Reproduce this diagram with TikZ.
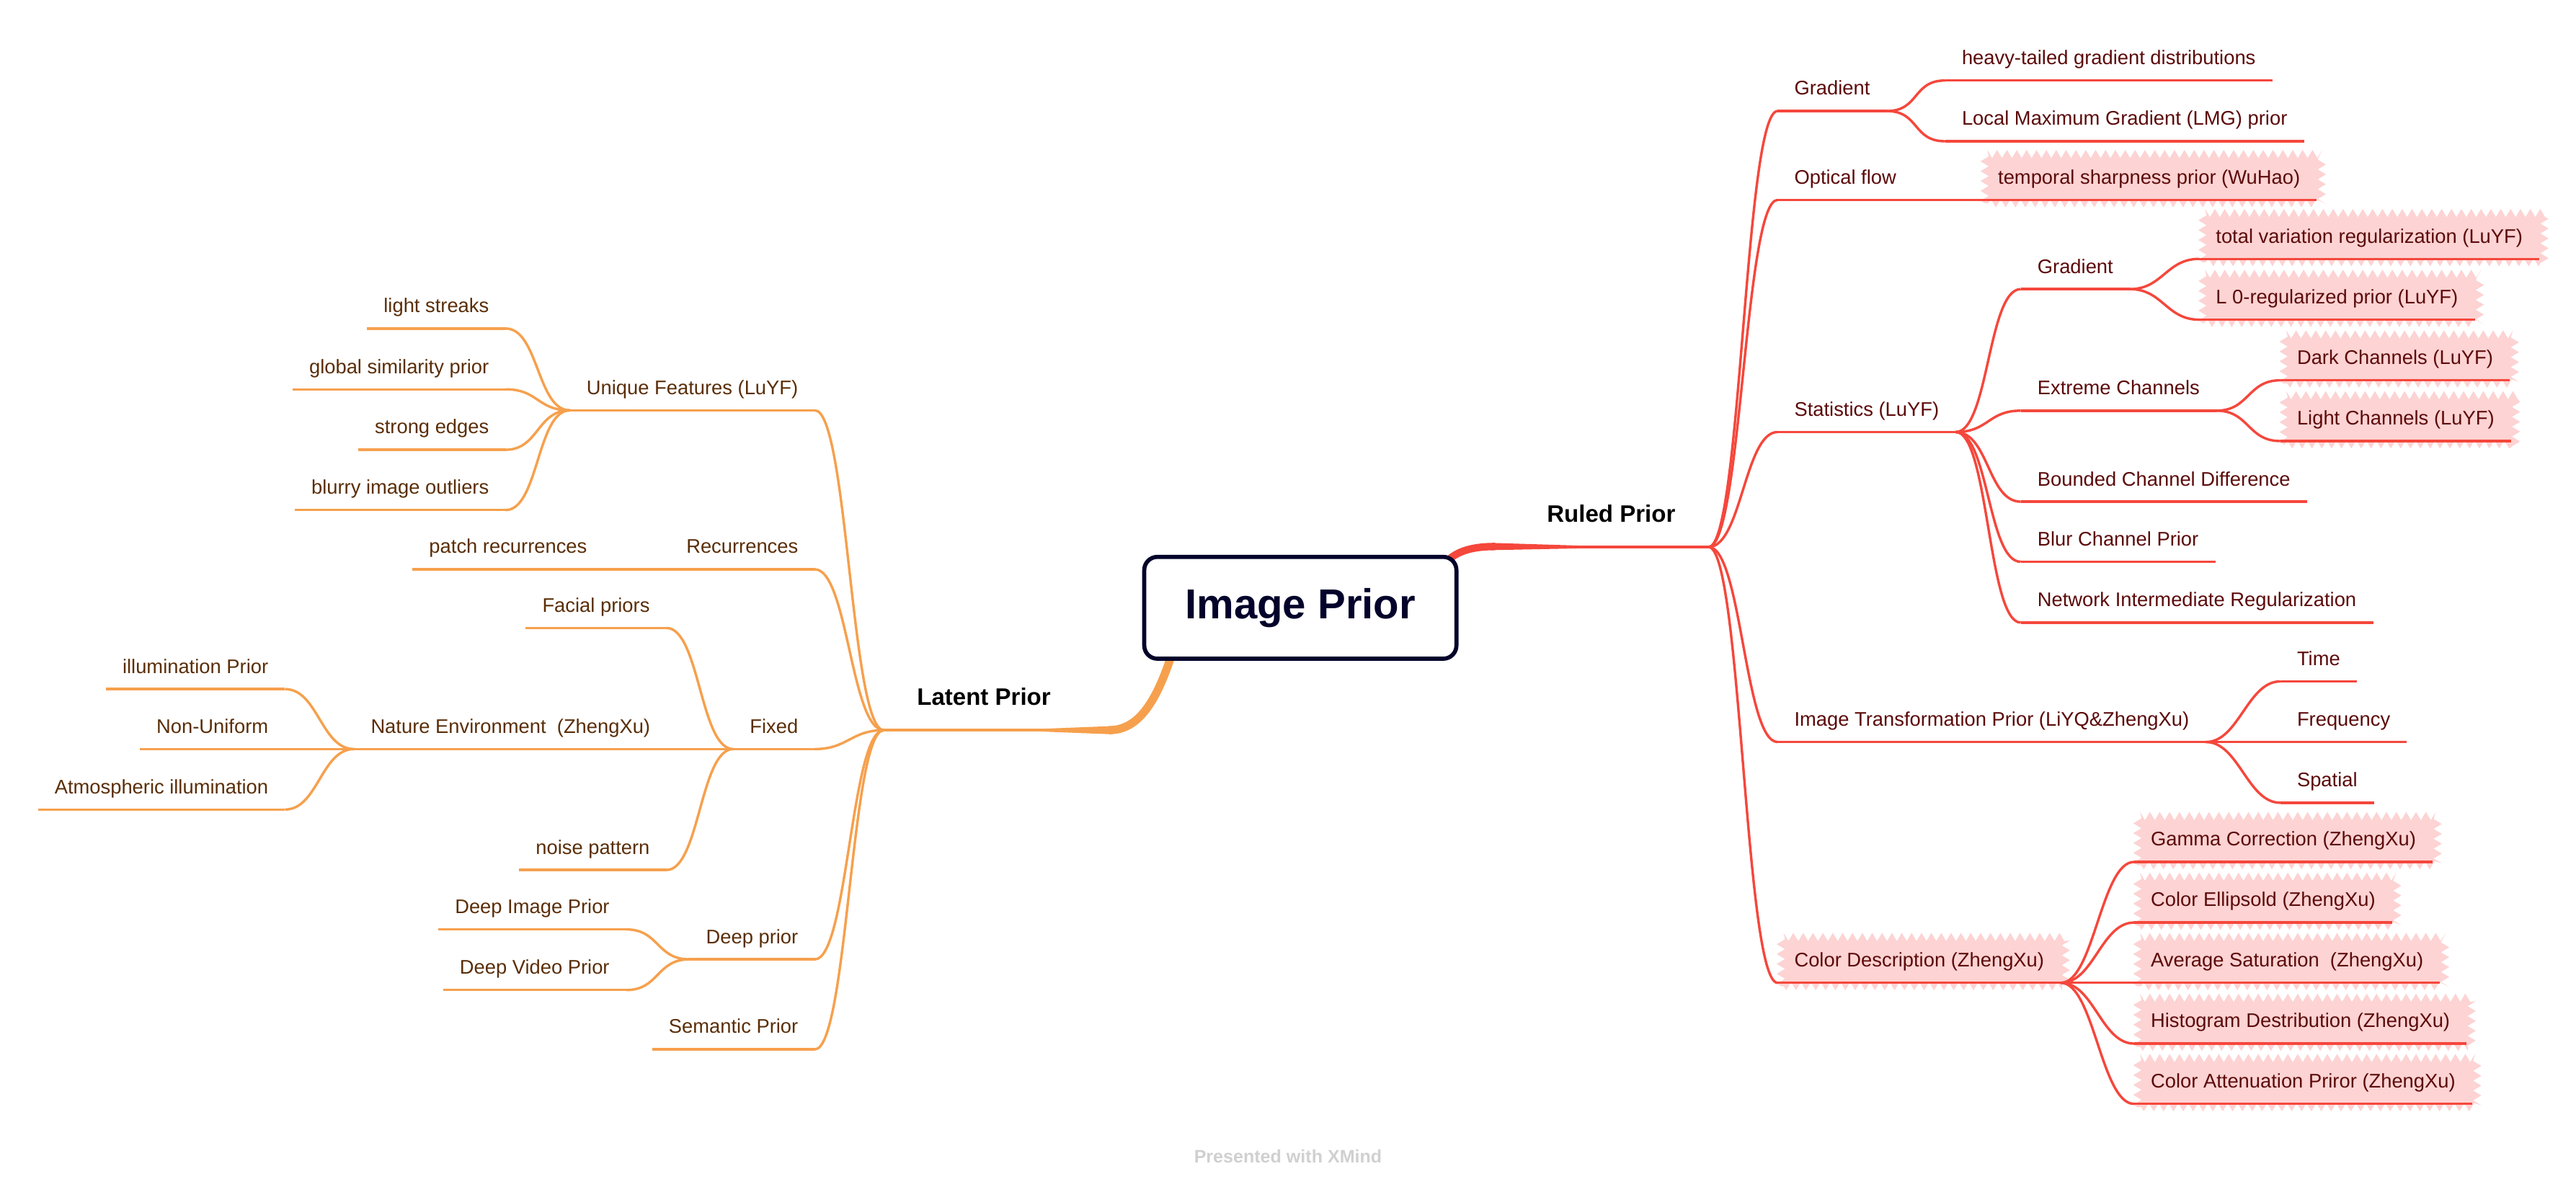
\documentclass[tikz,border=0pt]{standalone}
\usepackage{fontspec}
\setmainfont{Liberation Sans}
\usetikzlibrary{calc,backgrounds,decorations.pathmorphing}
\definecolor{rline}{HTML}{F5473C}
\definecolor{rtext}{HTML}{5C0A0A}
\definecolor{oline}{HTML}{F6A04D}
\definecolor{otext}{HTML}{5A2E08}
\definecolor{hlpink}{HTML}{FDD3D3}
\definecolor{navy}{HTML}{03032B}
\definecolor{footgray}{HTML}{D0D0D0}
\newcommand\rcon[2]{\draw[rl] (#1.south east) .. controls +(20,0) and +(-20,0) .. (#2.south west);}
\newcommand\lcon[2]{\draw[ol] (#1.south west) .. controls +(-20,0) and +(20,0) .. (#2.south east);}
\begin{document}
\begin{tikzpicture}[x=1pt,y=-1pt,
 rnode/.style={font=\fontsize{12}{14}\selectfont, text=rtext, inner xsep=10pt, inner ysep=7pt, text height=9pt, text depth=2.5pt, anchor=south west},
 lnode/.style={font=\fontsize{12}{14}\selectfont, text=otext, inner xsep=10pt, inner ysep=7pt, text height=9pt, text depth=2.5pt, anchor=south east},
 rl/.style={draw=rline, line width=1.5pt},
 ol/.style={draw=oline, line width=1.5pt},
 mainlbl/.style={font=\bfseries\fontsize{14.5}{17}\selectfont, text=black, inner xsep=20pt, inner ysep=12pt, text height=11pt, text depth=3pt},
 hlfill/.style={fill=hlpink, decorate, decoration={zigzag, segment length=6pt, amplitude=2.5pt}}]
\useasboundingbox (0,0) rectangle (1568,725.6);
\begin{scope}[on background layer]
\fill[white] (0,0) rectangle (1568,725.6);
\end{scope}

% root
\node[draw=navy, line width=2.5pt, rounded corners=8pt, fill=white, minimum width=190pt, minimum height=62pt, inner sep=0pt, font=\bfseries\fontsize{25.5}{30}\selectfont, text=navy] (root) at (791.5,370) {Image Prior};

% main labels
\node[mainlbl, anchor=south east] (RP) at (1040,333) {Ruled Prior};
\node[mainlbl, anchor=south west] (LP) at (538,444.5) {Latent Prior};

% right side
\node[rnode] (G1) at (1082,67.6) {Gradient};
\node[rnode] (heavy) at (1184,49) {heavy-tailed gradient distributions};
\node[rnode] (lmg) at (1184,86) {Local Maximum Gradient (LMG) prior};
\node[rnode] (OF) at (1082,121.7) {Optical flow};
\node[rnode] (tsp) at (1206,121.7) {temporal sharpness prior (WuHao)};
\node[rnode] (ST) at (1082,263) {Statistics (LuYF)};
\node[rnode] (G2) at (1230,176) {Gradient};
\node[rnode] (tv) at (1338.6,157.6) {total variation regularization (LuYF)};
\node[rnode] (l0) at (1338.6,194.6) {L 0-regularized prior (LuYF)};
\node[rnode] (EC) at (1230,250) {Extreme Channels};
\node[rnode] (dc) at (1388,231.5) {Dark Channels (LuYF)};
\node[rnode] (lc) at (1388,268.5) {Light Channels (LuYF)};
\node[rnode] (BCD) at (1230,305.4) {Bounded Channel Difference};
\node[rnode] (BCP) at (1230,342) {Blur Channel Prior};
\node[rnode] (NIR) at (1230,379) {Network Intermediate Regularization};
\node[rnode] (IT) at (1082,451.7) {Image Transformation Prior (LiYQ\&ZhengXu)};
\node[rnode] (time) at (1388,414.8) {Time};
\node[rnode] (freq) at (1388,451.7) {Frequency};
\node[rnode] (spat) at (1388,488.7) {Spatial};
\node[rnode] (CD) at (1082,598.3) {Color Description (ZhengXu)};
\node[rnode] (gc) at (1299,524.7) {Gamma Correction (ZhengXu)};
\node[rnode] (ce) at (1299,561.6) {Color Ellipsold (ZhengXu)};
\node[rnode] (avs) at (1299,598.3) {Average Saturation\ \ (ZhengXu)};
\node[rnode] (hd) at (1299,635.3) {Histogram Destribution (ZhengXu)};
\node[rnode] (ca) at (1299,672) {Color Attenuation Priror (ZhengXu)};

% left side
\node[lnode] (UF) at (496,249.8) {Unique Features (LuYF)};
\node[lnode] (ls) at (307.8,200) {light streaks};
\node[lnode] (gsp) at (307.8,237) {global similarity prior};
\node[lnode] (sed) at (307.8,273.8) {strong edges};
\node[lnode] (bio) at (307.8,310.5) {blurry image outliers};
\node[lnode] (RC) at (496,346.6) {Recurrences};
\node[lnode] (pr) at (367.5,346.6) {patch recurrences};
\node[lnode] (FX) at (496,456) {Fixed};
\node[lnode] (fp) at (405.7,382.3) {Facial priors};
\node[lnode] (ne) at (406,456) {Nature Environment\ \ (ZhengXu)};
\node[lnode] (ip) at (173.5,419.5) {illumination Prior};
\node[lnode] (nu) at (173.5,456) {Non-Uniform};
\node[lnode] (ai) at (173.5,492.8) {Atmospheric illumination};
\node[lnode] (np) at (405.7,529.6) {noise pattern};
\node[lnode] (DP) at (496,584) {Deep prior};
\node[lnode] (dip) at (381.2,565.8) {Deep Image Prior};
\node[lnode] (dvp) at (381.2,602.7) {Deep Video Prior};
\node[lnode] (SP) at (496,638.8) {Semantic Prior};

% footer
\node[font=\bfseries\fontsize{11}{13}\selectfont, text=footgray] (foot) at (784,703.8) {Presented with XMind};

% highlights
\begin{scope}[on background layer]
\foreach \n in {tsp,tv,l0,dc,lc,CD,gc,ce,avs,hd,ca}
  \fill[hlfill] ($(\n.south west)+(2,2)$) rectangle ($(\n.north east)+(3,-2)$);
% thick root connectors
\coordinate (rpA) at (910,332.7);
\draw[rline, line width=4.5pt] ($(root.north east)+(-8,5)$) .. controls +(7,-8) and +(-12,0) .. (rpA);
\fill[rline] (908,330.5) -- (965,332.25) -- (965,333.75) -- (908,334.9) -- cycle;
\coordinate (lpA) at (675,444.5);
\draw[oline, line width=5pt] ($(root.south west)+(18,-4)$) .. controls +(-10,31) and +(17,0) .. (lpA);
\fill[oline] (677,442) -- (632,443.75) -- (632,445.25) -- (677,447) -- cycle;
\end{scope}

% underlines
\foreach \n in {RP,G1,heavy,lmg,OF,tsp,ST,G2,tv,l0,EC,dc,lc,BCD,BCP,NIR,IT,time,freq,spat,CD,gc,ce,avs,hd,ca}
  \draw[rl] (\n.south west) -- (\n.south east);
\foreach \n in {LP,UF,ls,gsp,sed,bio,RC,pr,FX,fp,ne,ip,nu,ai,np,DP,dip,dvp,SP}
  \draw[ol] (\n.south west) -- (\n.south east);

% right connectors
\rcon{RP}{G1}\rcon{RP}{OF}\rcon{RP}{ST}\rcon{RP}{IT}\rcon{RP}{CD}
\rcon{G1}{heavy}\rcon{G1}{lmg}
\rcon{OF}{tsp}
\rcon{ST}{G2}\rcon{ST}{EC}\rcon{ST}{BCD}\rcon{ST}{BCP}\rcon{ST}{NIR}
\rcon{G2}{tv}\rcon{G2}{l0}
\rcon{EC}{dc}\rcon{EC}{lc}
\rcon{IT}{time}\rcon{IT}{freq}\rcon{IT}{spat}
\rcon{CD}{gc}\rcon{CD}{ce}\rcon{CD}{avs}\rcon{CD}{hd}\rcon{CD}{ca}

% left connectors
\lcon{LP}{UF}\lcon{LP}{RC}\lcon{LP}{FX}\lcon{LP}{DP}\lcon{LP}{SP}
\lcon{UF}{ls}\lcon{UF}{gsp}\lcon{UF}{sed}\lcon{UF}{bio}
\lcon{RC}{pr}
\lcon{FX}{fp}\lcon{FX}{ne}\lcon{FX}{np}
\lcon{ne}{ip}\lcon{ne}{nu}\lcon{ne}{ai}
\lcon{DP}{dip}\lcon{DP}{dvp}
\end{tikzpicture}
\end{document}
